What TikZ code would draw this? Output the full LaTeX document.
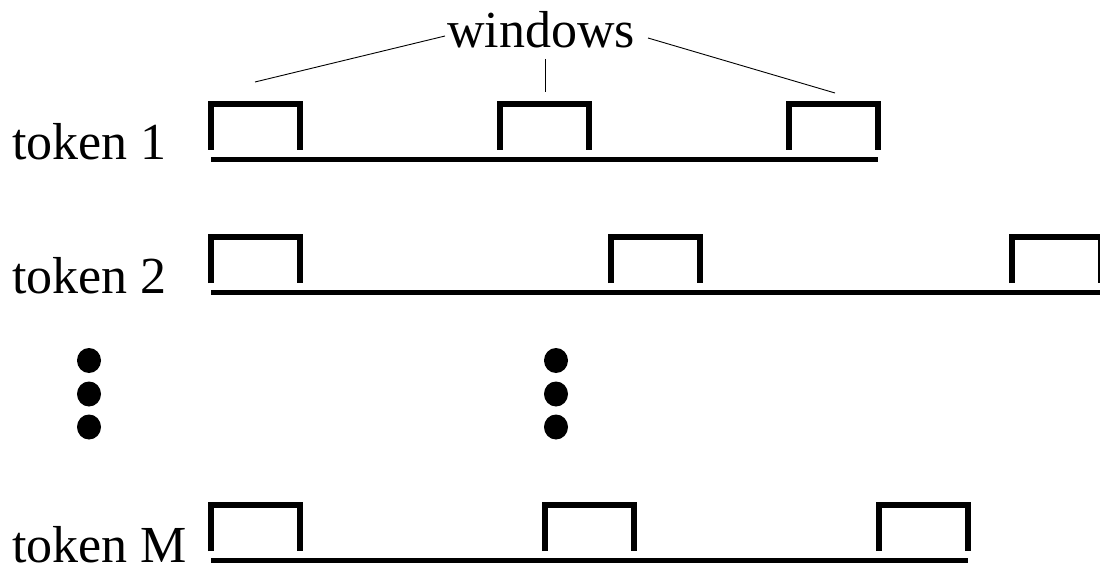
\documentclass[tikz,border=0pt]{standalone}
\usepackage{fontspec}
\setmainfont{Liberation Serif}
\begin{document}
\begin{tikzpicture}[x=1pt,y=-1pt,
  lbl/.style={inner sep=0pt,font=\fontsize{52}{60}\selectfont},
  winbar/.style={line width=6pt,line join=miter},
  baseline rule/.style={line width=5pt},
  lead/.style={line width=0.9pt},
  dotmark/.style={fill=black},
  winpic/.pic={\draw[winbar] (3,49) -- (3,3) -- (92,3) -- (92,49);}]
\useasboundingbox (0,0) rectangle (1100,564);
\clip (0,0) rectangle (1100,564);

% labels
\node[lbl,anchor=base west] (t1) at (12,160) {token 1};
\node[lbl,anchor=base west] (t2) at (12,293) {token 2};
\node[lbl,anchor=base west] (tM) at (12,562) {token M};
\node[lbl,anchor=base] (win) at (541,48) {windows};

% token 1
\coordinate (r1a) at (211,159.5);
\coordinate (r1b) at (878,159.5);
\draw[baseline rule] (r1a) -- (r1b);
\pic at (208,101) {winpic};
\pic at (497,101) {winpic};
\pic at (786,101) {winpic};

% token 2
\coordinate (r2a) at (211,292.5);
\coordinate (r2b) at (1105,292.5);
\draw[baseline rule] (r2a) -- (r2b);
\pic at (208,234) {winpic};
\pic at (608,234) {winpic};
\pic at (1009,234) {winpic};

% token M
\coordinate (rMa) at (211,560);
\coordinate (rMb) at (968,560);
\draw[baseline rule] (rMa) -- (rMb);
\pic at (208,502) {winpic};
\pic at (542,502) {winpic};
\pic at (876,502) {winpic};

% leaders from the label to the windows of token 1
\coordinate (la) at (445,36);
\coordinate (lb) at (255,82);
\coordinate (ma) at (545,59);
\coordinate (mb) at (545,92);
\coordinate (ra) at (648,38);
\coordinate (rb) at (835,93);
\draw[lead] (la) -- (lb);
\draw[lead] (ma) -- (mb);
\draw[lead] (ra) -- (rb);

% vertical ellipsis
\foreach \yy in {360.5,394,427}{
  \fill[dotmark] (89,\yy) ellipse [x radius=12, y radius=12.5];
  \fill[dotmark] (556,\yy) ellipse [x radius=12, y radius=12.5];
}
\end{tikzpicture}
\end{document}
